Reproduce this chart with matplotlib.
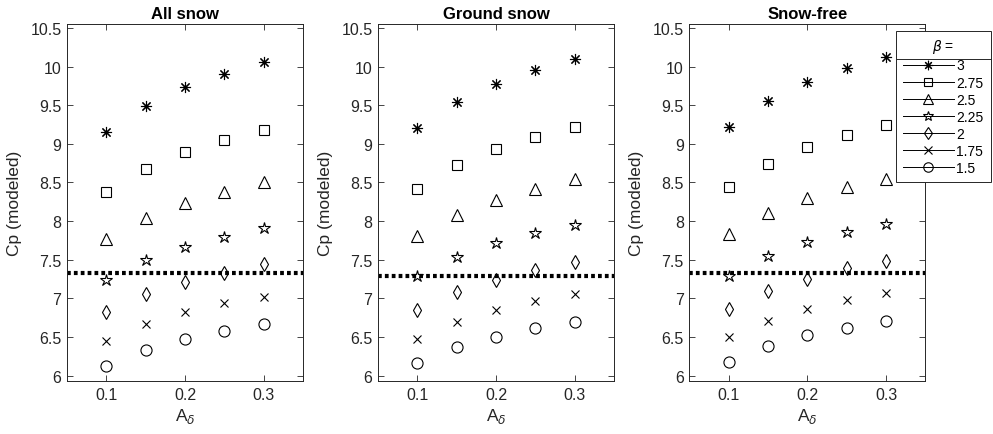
import numpy as np
import matplotlib
matplotlib.use("Agg")
import matplotlib.pyplot as plt
from matplotlib.lines import Line2D
from matplotlib.ticker import FormatStrFormatter

plt.rcParams['font.family'] = ['Liberation Sans', 'DejaVu Sans']
plt.rcParams['mathtext.fontset'] = 'dejavusans'

# ---- data ----
a_delta = [0.1, 0.15, 0.2, 0.25, 0.3]
beta_labels = ['3', '2.75', '2.5', '2.25', '2', '1.75', '1.5']
panel_titles = ['All snow', 'Ground snow', 'Snow-free']

# rows follow beta_labels (3 ... 1.5)
all_snow = [
    [9.15, 9.49, 9.73, 9.90, 10.06],
    [8.37, 8.68, 8.89, 9.05, 9.18],
    [7.77, 8.04, 8.24, 8.37, 8.50],
    [7.24, 7.50, 7.67, 7.80, 7.91],
    [6.82, 7.05, 7.21, 7.33, 7.44],
    [6.45, 6.67, 6.82, 6.94, 7.02],
    [6.13, 6.33, 6.47, 6.58, 6.67],
]
ground_snow = [
    [9.20, 9.54, 9.78, 9.96, 10.10],
    [8.42, 8.72, 8.93, 9.09, 9.22],
    [7.81, 8.08, 8.27, 8.42, 8.54],
    [7.29, 7.54, 7.71, 7.84, 7.95],
    [6.85, 7.08, 7.24, 7.37, 7.47],
    [6.48, 6.70, 6.85, 6.96, 7.05],
    [6.16, 6.37, 6.50, 6.61, 6.70],
]
snow_free = [
    [9.22, 9.56, 9.80, 9.98, 10.12],
    [8.44, 8.74, 8.96, 9.12, 9.24],
    [7.83, 8.10, 8.30, 8.44, 8.55],
    [7.29, 7.55, 7.73, 7.86, 7.96],
    [6.86, 7.10, 7.25, 7.39, 7.48],
    [6.50, 6.71, 6.86, 6.98, 7.07],
    [6.18, 6.38, 6.52, 6.62, 6.71],
]
cp_observed = [7.33, 7.29, 7.33]   # dotted reference lines

panels = [all_snow, ground_snow, snow_free]

# marker style per beta: (marker, size)
markers = [((8, 2, 0), 8), ('s', 6.5), ('^', 8.5), ('*', 9), ('d', 7.5), ('x', 6), ('o', 8)]

fig = plt.figure(figsize=(9.93, 4.35), dpi=100)
lefts = [0.0675, 0.3807, 0.6942]
gray = '#262626'

for k, (data, title) in enumerate(zip(panels, panel_titles)):
    ax = fig.add_axes([lefts[k], 0.1218, 0.2377, 0.8207])
    for vals, (mk, ms) in zip(data, markers):
        ax.plot(a_delta, vals, linestyle='none', marker=mk, markersize=ms,
                markerfacecolor='none', markeredgecolor='black', color='black',
                markeredgewidth=0.8)
    ax.axhline(cp_observed[k], color='black', linewidth=3,
               linestyle=(0, (0.9, 0.75)))
    ax.set_xlim(0.05, 0.35)
    ax.set_ylim(5.93, 10.55)
    ax.set_xticks([0.1, 0.2, 0.3])
    ax.set_yticks(np.arange(6, 10.51, 0.5))
    ax.yaxis.set_major_formatter(FormatStrFormatter('%g'))
    ax.tick_params(direction='in', top=True, right=True, length=4, width=0.6,
                   colors=gray, labelsize=11.5, labelcolor=gray, pad=4)
    for sp in ax.spines.values():
        sp.set_color(gray)
        sp.set_linewidth(0.7)
    ax.set_title(title, fontsize=12, fontweight='bold', pad=4)
    ax.set_ylabel('Cp (modeled)', fontsize=12.5, color=gray, labelpad=6)
    ax.set_xlabel(r'A$_{\delta}$', fontsize=12.5, color=gray, labelpad=3)

handles = [Line2D([], [], color='black', linewidth=0.7, marker=mk,
                  markersize=ms * 0.85, markerfacecolor='none',
                  markeredgecolor='black', markeredgewidth=0.8)
           for mk, ms in markers]
leg = fig.legend(handles, beta_labels, loc='upper left',
                 bbox_to_anchor=(896 / 993, 1 - 31.5 / 435),
                 borderaxespad=0, fancybox=False, framealpha=1,
                 edgecolor=gray, fontsize=10, handlelength=3.65,
                 handletextpad=0.2, labelspacing=0.22, borderpad=0.5,
                 title=r'$\beta$ =', title_fontsize=10)
leg.get_frame().set_linewidth(0.7)

# separator line under the legend title
fig.canvas.draw()
r = fig.canvas.get_renderer()
lb = leg.get_window_extent(r)
tb = leg.get_title().get_window_extent(r)
ysep = (tb.y0 - 4) / fig.bbox.height
fig.add_artist(Line2D([lb.x0 / fig.bbox.width, lb.x1 / fig.bbox.width],
                      [ysep, ysep], color=gray, linewidth=0.7, zorder=10))

fig.savefig('out.png', dpi=100)
